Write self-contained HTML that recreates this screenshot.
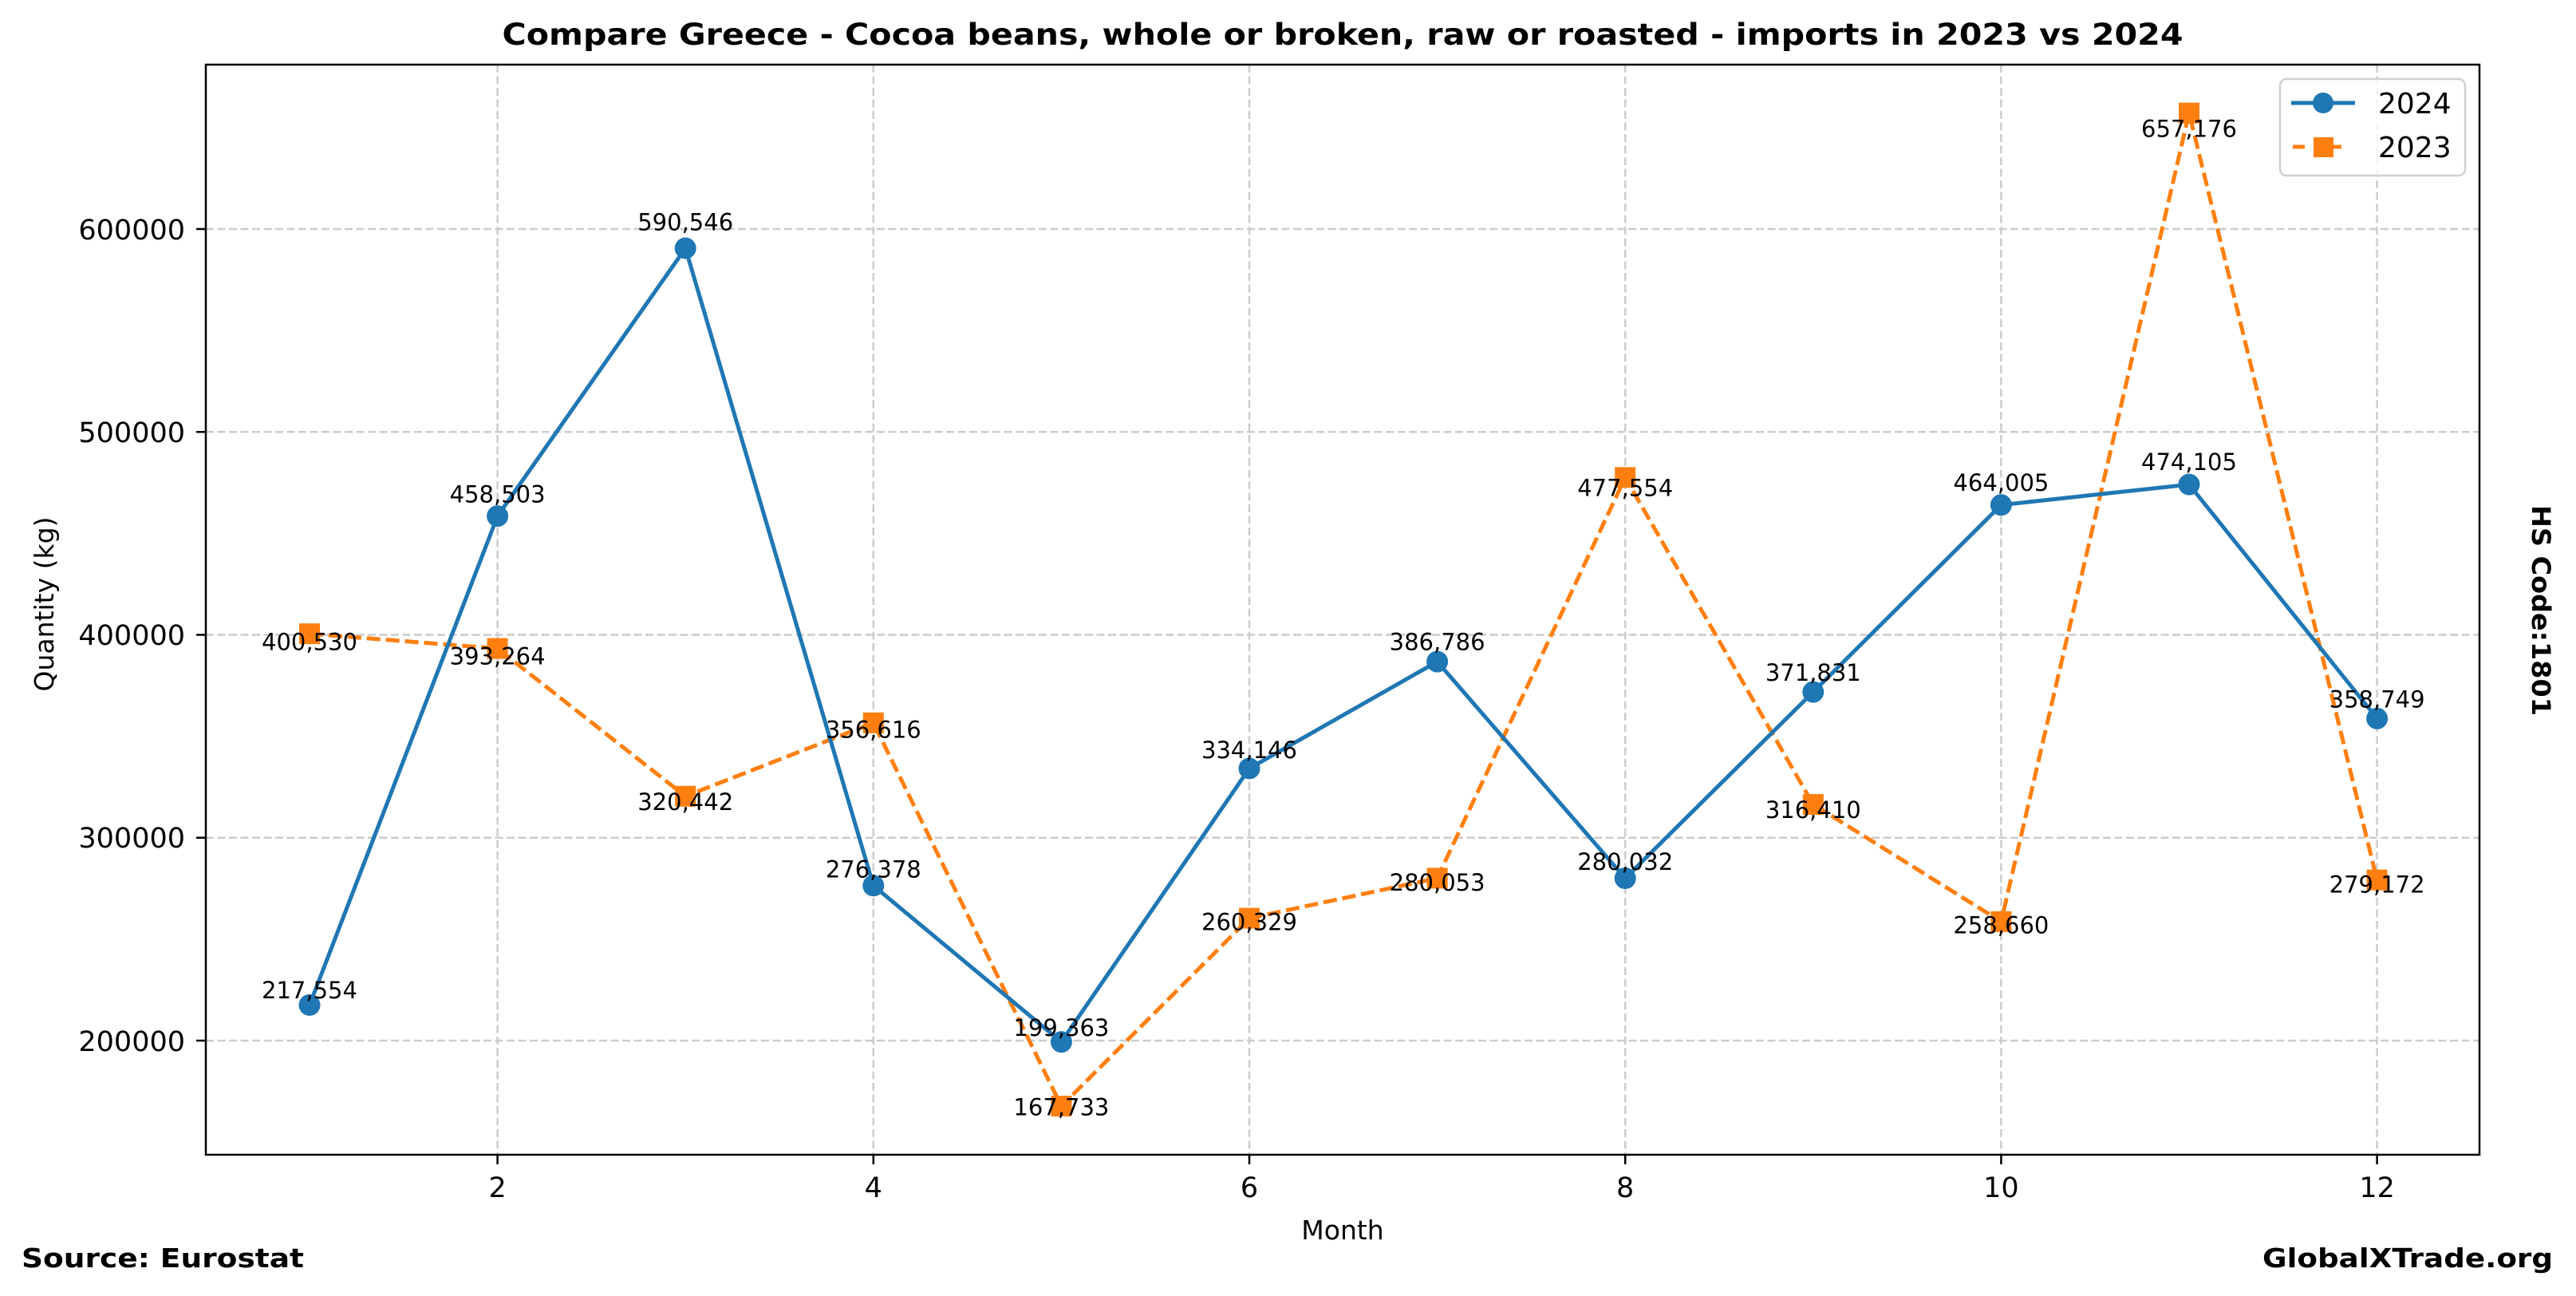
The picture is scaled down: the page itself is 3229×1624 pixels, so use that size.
<!DOCTYPE html>
<html><head><meta charset="utf-8"><style>
html,body{margin:0;padding:0;background:#fff;}
svg{display:block;font-family:"DejaVu Sans","Liberation Sans",sans-serif;}
</style></head><body>
<svg width="3229" height="1624" viewBox="0 0 3229 1624" xmlns="http://www.w3.org/2000/svg">
<rect width="3229" height="1624" fill="#fff"/>
<g stroke="#cccccc" stroke-width="2.5" stroke-dasharray="10,4.5" fill="none">
<line x1="623.6" y1="81" x2="623.6" y2="1447"/>
<line x1="1094.8" y1="81" x2="1094.8" y2="1447"/>
<line x1="1566" y1="81" x2="1566" y2="1447"/>
<line x1="2037.2" y1="81" x2="2037.2" y2="1447"/>
<line x1="2508.4" y1="81" x2="2508.4" y2="1447"/>
<line x1="2979.6" y1="81" x2="2979.6" y2="1447"/>
<line x1="258" y1="1304" x2="3108" y2="1304"/>
<line x1="258" y1="1049.75" x2="3108" y2="1049.75"/>
<line x1="258" y1="795.5" x2="3108" y2="795.5"/>
<line x1="258" y1="541.25" x2="3108" y2="541.25"/>
<line x1="258" y1="287" x2="3108" y2="287"/>
</g>
<g id="plot"></g>
<rect x="258" y="81" width="2850" height="1366" fill="none" stroke="#000" stroke-width="2.5"/>
<g stroke="#000" stroke-width="2.5">
<line x1="623.6" y1="1447" x2="623.6" y2="1459"/><line x1="1094.8" y1="1447" x2="1094.8" y2="1459"/>
<line x1="1566" y1="1447" x2="1566" y2="1459"/><line x1="2037.2" y1="1447" x2="2037.2" y2="1459"/>
<line x1="2508.4" y1="1447" x2="2508.4" y2="1459"/><line x1="2979.6" y1="1447" x2="2979.6" y2="1459"/>
<line x1="246" y1="1304" x2="258" y2="1304"/><line x1="246" y1="1049.75" x2="258" y2="1049.75"/>
<line x1="246" y1="795.5" x2="258" y2="795.5"/><line x1="246" y1="541.25" x2="258" y2="541.25"/>
<line x1="246" y1="287" x2="258" y2="287"/>
</g>
<g font-size="35" fill="#000" text-anchor="middle">
<text x="623.6" y="1500">2</text><text x="1094.8" y="1500">4</text><text x="1566" y="1500">6</text>
<text x="2037.2" y="1500">8</text><text x="2508.4" y="1500">10</text><text x="2979.6" y="1500">12</text>
</g>
<g font-size="35" fill="#000" text-anchor="end">
<text x="232" y="1317">200000</text><text x="232" y="1062">300000</text><text x="232" y="808">400000</text>
<text x="232" y="554">500000</text><text x="232" y="300">600000</text>
</g>
<text x="1683" y="1553" font-size="33" text-anchor="middle">Month</text>
<text transform="translate(67,757) rotate(-90)" font-size="33" text-anchor="middle">Quantity (kg)</text>
<text x="1683" y="56" font-size="37" font-weight="bold" text-anchor="middle" textLength="2107" lengthAdjust="spacingAndGlyphs">Compare Greece - Cocoa beans, whole or broken, raw or roasted - imports in 2023 vs 2024</text>
<text transform="translate(3174,765) rotate(90)" font-size="32" font-weight="bold" text-anchor="middle" textLength="264" lengthAdjust="spacingAndGlyphs">HS Code:1801</text>
<text x="27" y="1588" font-size="33" font-weight="bold" textLength="354" lengthAdjust="spacingAndGlyphs">Source: Eurostat</text>
<text x="3200" y="1588" font-size="33" font-weight="bold" text-anchor="end" textLength="364" lengthAdjust="spacingAndGlyphs">GlobalXTrade.org</text>
<g>
<rect x="2858" y="99" width="232" height="121" rx="8" fill="#fff" fill-opacity="0.8" stroke="#d0d0d0" stroke-width="2.5"/>
<line x1="2872" y1="129" x2="2952" y2="129" stroke="#1f77b4" stroke-width="5"/>
<circle cx="2912" cy="129" r="13" fill="#1f77b4"/>
<line x1="2874" y1="184" x2="2950" y2="184" stroke="#ff7f0e" stroke-width="5" stroke-dasharray="15,31"/>
<rect x="2900" y="172" width="25" height="25" fill="#ff7f0e"/>
<text x="2981" y="142" font-size="36">2024</text>
<text x="2981" y="197" font-size="36">2023</text>
</g>
</svg>
<script>
(function(){
var a=[217554,458503,590546,276378,199363,334146,386786,280032,371831,464005,474105,358749];
var b=[400530,393264,320442,356616,167733,260329,280053,477554,316410,258660,657176,279172];
function X(m){return 388+(m-1)*235.6;}
function Y(v){return 1304-(v-200000)*0.0025425;}
function f(v){return v.toString().replace(/\B(?=(\d{3})+(?!\d))/g,",");}
var s="";
var pa=a.map(function(v,i){return X(i+1)+","+Y(v);}).join(" ");
var pb=b.map(function(v,i){return X(i+1)+","+Y(v);}).join(" ");
s+='<polyline points="'+pb+'" fill="none" stroke="#ff7f0e" stroke-width="5" stroke-dasharray="17,7"/>';
b.forEach(function(v,i){s+='<rect x="'+(X(i+1)-13)+'" y="'+(Y(v)-13)+'" width="26" height="26" fill="#ff7f0e"/>';});
s+='<polyline points="'+pa+'" fill="none" stroke="#1f77b4" stroke-width="5"/>';
a.forEach(function(v,i){s+='<circle cx="'+X(i+1)+'" cy="'+Y(v)+'" r="13.5" fill="#1f77b4"/>';});
a.forEach(function(v,i){s+='<text x="'+X(i+1)+'" y="'+(Y(v*1.015))+'" font-size="29" text-anchor="middle">'+f(v)+'</text>';});
b.forEach(function(v,i){s+='<text x="'+X(i+1)+'" y="'+(Y(v*0.985)+5)+'" font-size="29" text-anchor="middle">'+f(v)+'</text>';});
document.getElementById("plot").innerHTML=s;
})();
</script>
</body></html>
